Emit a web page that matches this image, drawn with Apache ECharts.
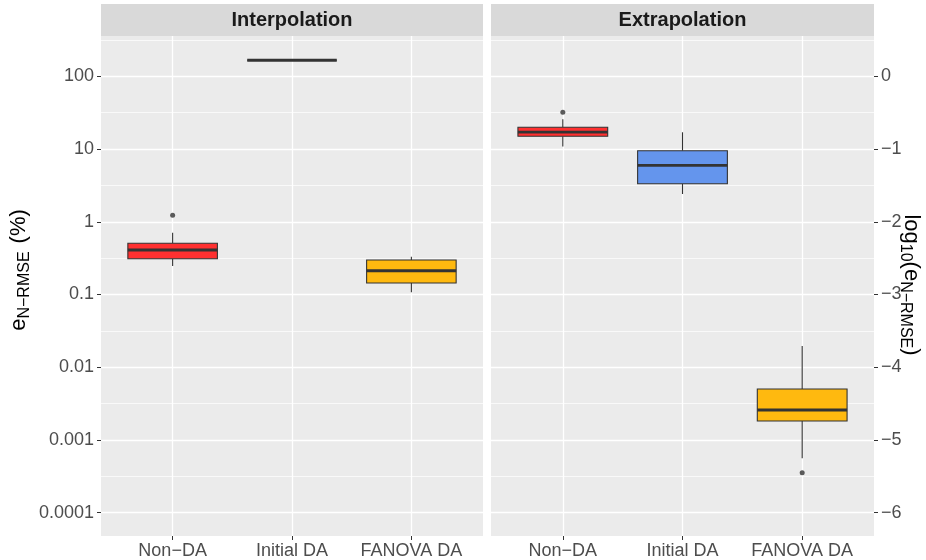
<!DOCTYPE html>
<html>
<head>
<meta charset="utf-8">
<title>e N-RMSE by design approach</title>
<script src="https://cdn.jsdelivr.net/npm/echarts@6/dist/echarts.min.js"></script>
<style>
  html, body { margin: 0; padding: 0; background: #ffffff; }
  #chart { width: 926px; height: 560px; }
</style>
</head>
<body>
<div id="chart"></div>
<script>
// Design approaches shown on the x axis of both panels
const categories = ['Non\u2212DA', 'Initial DA', 'FANOVA DA'];

// Five-number summaries in percent: [lower whisker, Q1, median, Q3, upper whisker]
const interpNonDA     = [0.247, 0.31, 0.409, 0.506, 0.708];
const interpInitialDA = [166, 166, 166, 166, 166];
const interpFanovaDA  = [0.107, 0.144, 0.212, 0.298, 0.331];

const extrapNonDA     = [10.8, 15.0, 17.1, 19.9, 25.6];
const extrapInitialDA = [2.41, 3.34, 5.97, 9.48, 17.0];
const extrapFanovaDA  = [0.00056, 0.00182, 0.00258, 0.00502, 0.0196];

// Outlying runs (percent)
const interpOutlierCats   = ['Non\u2212DA'];
const interpOutlierValues = [1.23];
const extrapOutlierCats   = ['Non\u2212DA', 'FANOVA DA'];
const extrapOutlierValues = [32.0, 0.000355];

// Tick labels: percent on the left, log10 of the raw error on the right
const majorExponents  = [-4, -3, -2, -1, 0, 1, 2];
const minorExponents  = [-3.5, -2.5, -1.5, -0.5, 0.5, 1.5, 2.5];
const leftTickLabels  = ['0.0001', '0.001', '0.01', '0.1', '1', '10', '100'];
const rightTickLabels = ['\u22126', '\u22125', '\u22124', '\u22123', '\u22122', '\u22121', '0'];

const boxFills = ['#FF3030', '#6495ED', '#FFB90F'];
const INK = '#333333';
const TEXT = '#4D4D4D';
const FONT = '"Liberation Sans", Arial, Helvetica, sans-serif';

const Y_MIN = -4.32, Y_MAX = 2.554;

const toBoxData = rows => rows.map((r, i) => [i + 1].concat(r.map(v => Math.log10(v))));
const toOutliers = (cats, vals) => cats.map((c, i) => [categories.indexOf(c) + 1, Math.log10(vals[i])]);
const labelFor = (labels, v) => {
  const k = majorExponents.indexOf(Math.round(v));
  return k >= 0 ? labels[k] : '';
};

function renderBox(params, api) {
  const x = api.value(0);
  const pMin = api.coord([x, api.value(1)]);
  const pQ1  = api.coord([x, api.value(2)]);
  const pMed = api.coord([x, api.value(3)]);
  const pQ3  = api.coord([x, api.value(4)]);
  const pMax = api.coord([x, api.value(5)]);
  const cx = pMed[0];
  const half = api.size([0.75, 0])[0] / 2;
  const fill = boxFills[params.dataIndex];
  return {
    type: 'group',
    children: [
      { type: 'line', shape: { x1: cx, y1: pQ3[1], x2: cx, y2: pMax[1] }, style: { stroke: INK, lineWidth: 1.1 } },
      { type: 'line', shape: { x1: cx, y1: pQ1[1], x2: cx, y2: pMin[1] }, style: { stroke: INK, lineWidth: 1.1 } },
      { type: 'rect', shape: { x: cx - half, y: pQ3[1], width: 2 * half, height: pQ1[1] - pQ3[1] },
        style: { fill: fill, stroke: INK, lineWidth: 1.1 } },
      { type: 'line', shape: { x1: cx - half, y1: pMed[1], x2: cx + half, y2: pMed[1] },
        style: { stroke: INK, lineWidth: 2.9 } }
    ]
  };
}

const panels = [
  { left: 101, width: 382, title: 'Interpolation', side: 'left', labels: leftTickLabels,
    boxes: [interpNonDA, interpInitialDA, interpFanovaDA],
    outliers: toOutliers(interpOutlierCats, interpOutlierValues) },
  { left: 491, width: 383, title: 'Extrapolation', side: 'right', labels: rightTickLabels,
    boxes: [extrapNonDA, extrapInitialDA, extrapFanovaDA],
    outliers: toOutliers(extrapOutlierCats, extrapOutlierValues) }
];

const grid = [], xAxis = [], yAxis = [], series = [], graphic = [];

panels.forEach((p, i) => {
  grid.push({
    left: p.left, width: p.width, top: 36, height: 500,
    show: true, backgroundColor: '#EBEBEB', borderWidth: 0,
    containLabel: false, outerBoundsMode: 'none'
  });
  xAxis.push({
    type: 'value', gridIndex: i, min: 0.4, max: 3.6, position: 'bottom',
    axisLine: { show: false, onZero: false },
    axisTick: { show: true, length: 4, lineStyle: { color: INK, width: 1 }, customValues: [1, 2, 3] },
    axisLabel: { customValues: [1, 2, 3], color: TEXT, fontSize: 18, fontFamily: FONT, margin: 6,
      formatter: v => categories[Math.round(v) - 1] },
    splitLine: { show: true, lineStyle: { color: '#FFFFFF', width: 1.3 } }
  });
  // major ticks, labels and grid lines
  yAxis.push({
    type: 'value', gridIndex: i, min: Y_MIN, max: Y_MAX, position: p.side,
    axisLine: { show: false, onZero: false },
    axisTick: { show: true, length: 4, lineStyle: { color: INK, width: 1 }, customValues: majorExponents },
    axisLabel: { customValues: majorExponents, color: TEXT, fontSize: 18, fontFamily: FONT, margin: 7,
      formatter: v => labelFor(p.labels, v) },
    splitLine: { show: true, lineStyle: { color: '#FFFFFF', width: 1.3 } }
  });
  // half-decade grid lines
  yAxis.push({
    type: 'value', gridIndex: i, min: Y_MIN, max: Y_MAX, position: p.side,
    axisLine: { show: false, onZero: false },
    axisTick: { show: false, customValues: minorExponents },
    axisLabel: { show: false },
    splitLine: { show: true, lineStyle: { color: '#FFFFFF', width: 0.7 } }
  });
  series.push({
    type: 'custom', xAxisIndex: i, yAxisIndex: 2 * i, z: 3,
    renderItem: renderBox,
    encode: { x: 0, y: [1, 2, 3, 4, 5] },
    data: toBoxData(p.boxes)
  });
  series.push({
    type: 'scatter', xAxisIndex: i, yAxisIndex: 2 * i, z: 4,
    symbol: 'circle', symbolSize: 5,
    itemStyle: { color: INK },
    data: p.outliers
  });
  // facet strip
  graphic.push({
    type: 'rect', left: p.left, top: 4, z: 10,
    shape: { width: p.width, height: 32 },
    style: { fill: '#D9D9D9' }
  });
  graphic.push({
    type: 'text', x: p.left + p.width / 2, y: 20.5, z: 11,
    style: { text: p.title, font: 'bold 20px ' + FONT, fill: '#1A1A1A', align: 'center', verticalAlign: 'middle' }
  });
});

// axis titles
graphic.push({
  type: 'text', x: 19, y: 270, rotation: Math.PI / 2, z: 11,
  style: {
    text: '{m|e}{s|N\u2212RMSE}{g|(%)}',
    align: 'center', verticalAlign: 'middle', fill: '#000000',
    rich: {
      m: { fontSize: 22, fontFamily: FONT, fill: '#000000' },
      g: { fontSize: 22, fontFamily: FONT, fill: '#000000', padding: [0, 0, 0, 8] },
      s: { fontSize: 16, fontFamily: FONT, fill: '#000000', padding: [11, 0, 0, 0] }
    }
  }
});
graphic.push({
  type: 'text', x: 911, y: 285, rotation: -Math.PI / 2, z: 11,
  style: {
    text: '{m|log}{s|10}{m|(e}{s|N\u2212RMSE}{m|)}',
    align: 'center', verticalAlign: 'middle', fill: '#000000',
    rich: {
      m: { fontSize: 22, fontFamily: FONT, fill: '#000000' },
      s: { fontSize: 16, fontFamily: FONT, fill: '#000000', padding: [11, 0, 0, 0] }
    }
  }
});

const chart = echarts.init(document.getElementById('chart'), null, { renderer: 'canvas' });
chart.setOption({
  animation: false,
  backgroundColor: '#FFFFFF',
  textStyle: { fontFamily: FONT },
  grid, xAxis, yAxis, series, graphic
});
</script>
</body>
</html>
